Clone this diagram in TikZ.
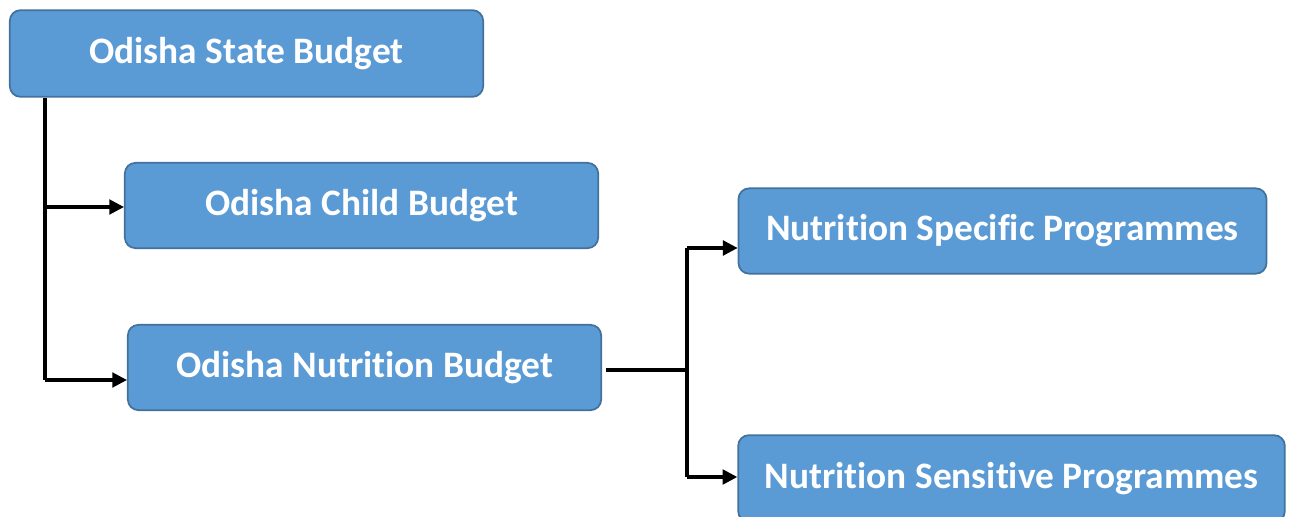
\documentclass[tikz,border=0pt]{standalone}
\usepackage{fontspec}
\setmainfont{Carlito}[Ligatures=NoCommon]
\usepackage{xcolor}
\usepackage{tikz}
\usetikzlibrary{arrows.meta}

\definecolor{boxfill}{HTML}{5B9BD5}
\definecolor{boxline}{HTML}{41719C}

\begin{document}
\begin{tikzpicture}[x=0.75pt, y=-0.75pt,
    budget/.style={draw=boxline, fill=boxfill, line width=1.3pt, rounded corners=8pt,
        text=white, font=\bfseries\fontsize{28}{32}\selectfont, inner sep=0pt},
    link/.style={line width=2.3pt, black},
    arr/.style={link, -{Triangle[length=11pt, width=11pt]}}]
    \clip (0,0) rectangle (1292,517);

    % the boxes
    \node[budget, minimum width=355pt, minimum height=65pt] (state) at (246.5, 53.5) {Odisha State Budget};
    \node[budget, minimum width=355pt, minimum height=64pt] (child) at (361.5, 205.5) {Odisha Child Budget};
    \node[budget, minimum width=355pt, minimum height=64pt] (nutr) at (364.5, 367.5) {Odisha Nutrition Budget};
    \node[budget, minimum width=396pt, minimum height=64pt] (spec) at (1002.5, 231) {Nutrition Specific Programmes};
    \node[budget, minimum width=410pt, minimum height=65pt] (sens) at (1011.5, 478.5) {Nutrition Sensitive Programmes};

    % left branch
    \coordinate (ta) at (45, 207);
    \coordinate (tb) at (45, 380);
    \draw[link] (state.south -| tb) -- (tb);
    \draw[arr] (ta) -- (child.west |- ta);
    \draw[arr] (tb) -- (nutr.west |- tb);

    % right branch
    \coordinate (fork) at (687, 370);
    \coordinate (fa) at (687, 248);
    \coordinate (fb) at (687, 477);
    \draw[link, shorten <=3pt] (nutr.east |- fork) -- (fork);
    \draw[link] (fa) -- (fb);
    \draw[arr] (fa) -- (spec.west |- fa);
    \draw[arr] (fb) -- (sens.west |- fb);
\end{tikzpicture}
\end{document}
